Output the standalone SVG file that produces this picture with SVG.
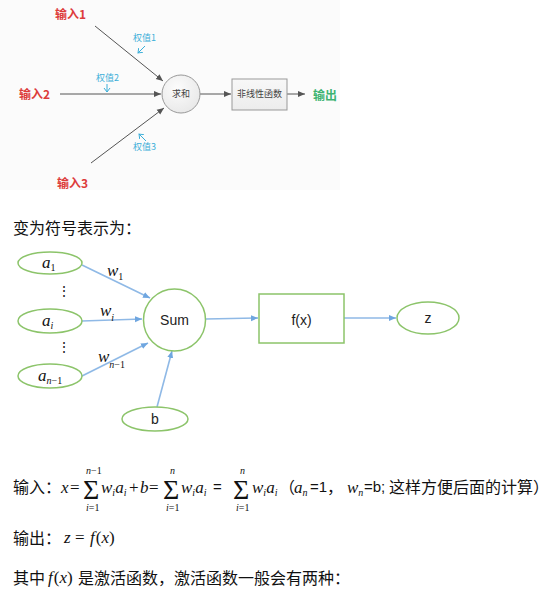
<svg xmlns="http://www.w3.org/2000/svg" width="553" height="591" viewBox="0 0 553 591">
<style>
.cn{font-family:"Noto Sans CJK SC","Noto Sans",sans-serif;fill:#111;font-size:16px}
.in{font-family:"Noto Sans CJK SC",sans-serif;fill:#dd3b3b;font-size:12px;font-weight:bold}
.out{font-family:"Noto Sans CJK SC",sans-serif;fill:#3cb371;font-size:12px;font-weight:bold}
.wt{font-family:"Noto Sans CJK SC",sans-serif;fill:#3aaed8;font-size:9px}
.nd{font-family:"Noto Sans CJK SC",sans-serif;fill:#444;font-size:9px}
.gl{stroke:#555;stroke-width:1;fill:none}
.bl{stroke:#3aaed8;stroke-width:1;fill:none}
.gn{stroke:#8cc46a;stroke-width:1.5;fill:#fff}
.ar{stroke:#8fb9e6;stroke-width:1.6;fill:none}
.lb{font-family:"Liberation Sans","Open Sans",sans-serif;fill:#222;font-size:14px}
.mi{font-family:"Liberation Serif",serif;font-style:italic;fill:#111;font-size:17px}
.mr{font-family:"Liberation Serif",serif;fill:#111;font-size:17px}
.ms{font-family:"Liberation Serif",serif;font-style:italic;fill:#111;font-size:10px}
.sg{font-family:"Liberation Serif",serif;fill:#111;font-size:28px}
.sm{font-family:"Liberation Serif",serif;fill:#111;font-size:10px}
.ss{font-family:"Liberation Sans",sans-serif;fill:#111;font-size:15px}
.it{font-style:italic}
</style>
<defs>
<marker id="ag" markerWidth="8" markerHeight="8" refX="7" refY="4" orient="auto" markerUnits="userSpaceOnUse"><path d="M0,1 L7,4 L0,7 Z" fill="#555"/></marker>
<marker id="ab" markerWidth="8" markerHeight="8" refX="4" refY="4" orient="auto" markerUnits="userSpaceOnUse"><path d="M0,1 L4,4 L0,7" fill="none" stroke="#3aaed8" stroke-width="1"/></marker>
<marker id="aw" markerWidth="8" markerHeight="8" refX="7" refY="4" orient="auto" markerUnits="userSpaceOnUse"><path d="M0,1 L7,4 L0,7 Z" fill="#6fa6e0"/></marker>
<radialGradient id="cg" cx="0.4" cy="0.35" r="0.7"><stop offset="0" stop-color="#fcfcfc"/><stop offset="1" stop-color="#e8e8e8"/></radialGradient>
<linearGradient id="bg" x1="0" y1="0" x2="0" y2="1"><stop offset="0" stop-color="#f8f8f8"/><stop offset="1" stop-color="#ececec"/></linearGradient>
</defs>
<rect x="0" y="0" width="553" height="591" fill="#fff"/>
<rect x="0" y="0" width="340" height="190" fill="#fbfbfb"/>

<g id="connectors">
<line class="gl" x1="95" y1="26" x2="163" y2="81" marker-end="url(#ag)"/>
<line class="gl" x1="60" y1="94" x2="161" y2="94" marker-end="url(#ag)"/>
<line class="gl" x1="91" y1="163" x2="164" y2="108" marker-end="url(#ag)"/>
<line class="gl" x1="200" y1="94" x2="231" y2="94" marker-end="url(#ag)"/>
<line class="gl" x1="287" y1="94" x2="305" y2="94" marker-end="url(#ag)"/>
<line class="bl" x1="145" y1="46" x2="138" y2="53" marker-end="url(#ab)"/>
<line class="bl" x1="107" y1="84" x2="107" y2="92" marker-end="url(#ab)"/>
<line class="bl" x1="146" y1="141" x2="139" y2="134" marker-end="url(#ab)"/>

<line class="ar" x1="82" y1="265" x2="150" y2="298" marker-end="url(#aw)"/>
<line class="ar" x1="82" y1="321" x2="142" y2="319" marker-end="url(#aw)"/>
<line class="ar" x1="82" y1="376" x2="148" y2="343" marker-end="url(#aw)"/>
<line class="ar" x1="157" y1="407" x2="172" y2="351" marker-end="url(#aw)"/>
<line class="ar" x1="206" y1="319" x2="258" y2="318" marker-end="url(#aw)"/>
<line class="ar" x1="344" y1="318" x2="396" y2="318" marker-end="url(#aw)"/>
</g>

<g id="in1"><text class="in" x="55" y="19">输入1</text></g>
<g id="in2"><text class="in" x="19" y="99">输入2</text></g>
<g id="in3"><text class="in" x="57" y="188">输入3</text></g>
<g id="w1"><text class="wt" x="133" y="41">权值1</text></g>
<g id="w2"><text class="wt" x="96" y="81">权值2</text></g>
<g id="w3"><text class="wt" x="133" y="150">权值3</text></g>
<g id="sum1"><circle cx="181" cy="94" r="19" fill="url(#cg)" stroke="#999"/><text class="nd" x="181" y="97" text-anchor="middle">求和</text></g>
<g id="nonlin"><rect x="232" y="79" width="55" height="31" fill="url(#bg)" stroke="#999"/><text class="nd" x="259.5" y="97" text-anchor="middle">非线性函数</text></g>
<g id="out1"><text class="out" x="313" y="100">输出</text></g>

<text class="cn" x="13" y="234" font-size="15">变为符号表示为：</text>

<g id="a1"><ellipse class="gn" cx="50" cy="263" rx="32" ry="11"/><text class="mi" x="42" y="268" font-size="19">a<tspan font-size="10" font-style="normal" dy="3">1</tspan></text></g>
<g id="ai"><ellipse class="gn" cx="50" cy="321" rx="32" ry="12"/><text class="mi" x="42" y="326" font-size="19">a<tspan font-size="10" dy="3">i</tspan></text></g>
<g id="an1"><ellipse class="gn" cx="50" cy="376" rx="32" ry="12"/><text class="mi" x="38" y="381" font-size="18">a<tspan font-size="10" dy="3">n</tspan><tspan font-size="10" font-style="normal">−1</tspan></text></g>
<g id="dots"><text class="lb" x="57" y="296" font-size="12">⋮</text><text class="lb" x="57" y="352" font-size="12">⋮</text></g>
<g id="sum"><circle class="gn" cx="174.5" cy="320" r="31"/><text class="lb" x="174.5" y="325" text-anchor="middle">Sum</text></g>
<g id="bnode"><ellipse class="gn" cx="155" cy="419" rx="33" ry="12"/><text class="lb" x="155" y="424" text-anchor="middle">b</text></g>
<g id="fx"><rect class="gn" x="259" y="294" width="85" height="49"/><text class="lb" x="301.5" y="325" text-anchor="middle">f(x)</text></g>
<g id="z"><ellipse class="gn" cx="428" cy="318" rx="31" ry="16"/><text class="lb" x="428" y="323" text-anchor="middle">z</text></g>
<g id="wlabels">
<text class="mi" x="107" y="276" font-size="19">w<tspan font-size="10" font-style="normal" dy="4">1</tspan></text>
<text class="mi" x="100" y="316" font-size="19">w<tspan font-size="10" dy="5">i</tspan></text>
<text class="mi" x="98" y="362" font-size="19">w<tspan font-size="10" dy="6">n</tspan><tspan font-size="10" font-style="normal">−1</tspan></text>
</g>

<g id="formula">
<text class="cn" x="13" y="493" font-size="15">输入：</text>
<text class="mi" x="61" y="493">x</text>
<text class="mr" x="70" y="493">=</text>
<text class="sg" x="83" y="499">Σ</text>
<text class="sm" x="86" y="474"><tspan class="it">n</tspan>−1</text>
<text class="sm" x="86" y="511"><tspan class="it">i</tspan>=1</text>
<text class="mi" x="101" y="493">w<tspan font-size="10" dy="3">i</tspan><tspan dy="-3">a</tspan><tspan font-size="10" dy="3">i</tspan></text>
<text class="mr" x="129" y="493">+</text>
<text class="mi" x="140" y="493">b</text>
<text class="mr" x="149" y="493">=</text>
<text class="sg" x="163" y="499">Σ</text>
<text class="ms" x="170" y="474">n</text>
<text class="sm" x="166" y="511"><tspan class="it">i</tspan>=1</text>
<text class="mi" x="181" y="493">w<tspan font-size="10" dy="3">i</tspan><tspan dy="-3">a</tspan><tspan font-size="10" dy="3">i</tspan></text>
<text class="ss" x="213" y="492">=</text>
<text class="sg" x="233" y="499">Σ</text>
<text class="ms" x="240" y="474">n</text>
<text class="sm" x="236" y="511"><tspan class="it">i</tspan>=1</text>
<text class="mi" x="252" y="493">w<tspan font-size="10" dy="3">i</tspan><tspan dy="-3">a</tspan><tspan font-size="10" dy="3">i</tspan></text>
<text class="cn" x="279" y="493">（</text>
<text class="mi" x="294" y="493">a<tspan font-size="10" dy="3">n</tspan></text>
<text class="ss" x="310" y="492">=1</text><text class="cn" x="327" y="493">，</text>
<text class="mi" x="347" y="493">w<tspan font-size="10" dy="3">n</tspan></text>
<text class="ss" x="364" y="492">=b;</text>
<text class="cn" x="389" y="493">这样方便后面的计算）</text>
</g>

<g id="output">
<text class="cn" x="13" y="544" font-size="15">输出：</text>
<text class="mi" x="64" y="543">z</text>
<text class="mr" x="75" y="543">=</text>
<text class="mi" x="90" y="543">f<tspan class="mr" font-style="normal" dx="1">(</tspan>x<tspan font-style="normal">)</tspan></text>
</g>

<g id="note">
<text class="cn" x="13" y="584" font-size="15">其中</text>
<text class="mi" x="48" y="583">f<tspan font-style="normal" dx="1">(</tspan>x<tspan font-style="normal">)</tspan></text>
<text class="cn" x="78" y="584">是激活函数，激活函数一般会有两种：</text>
</g>
</svg>
